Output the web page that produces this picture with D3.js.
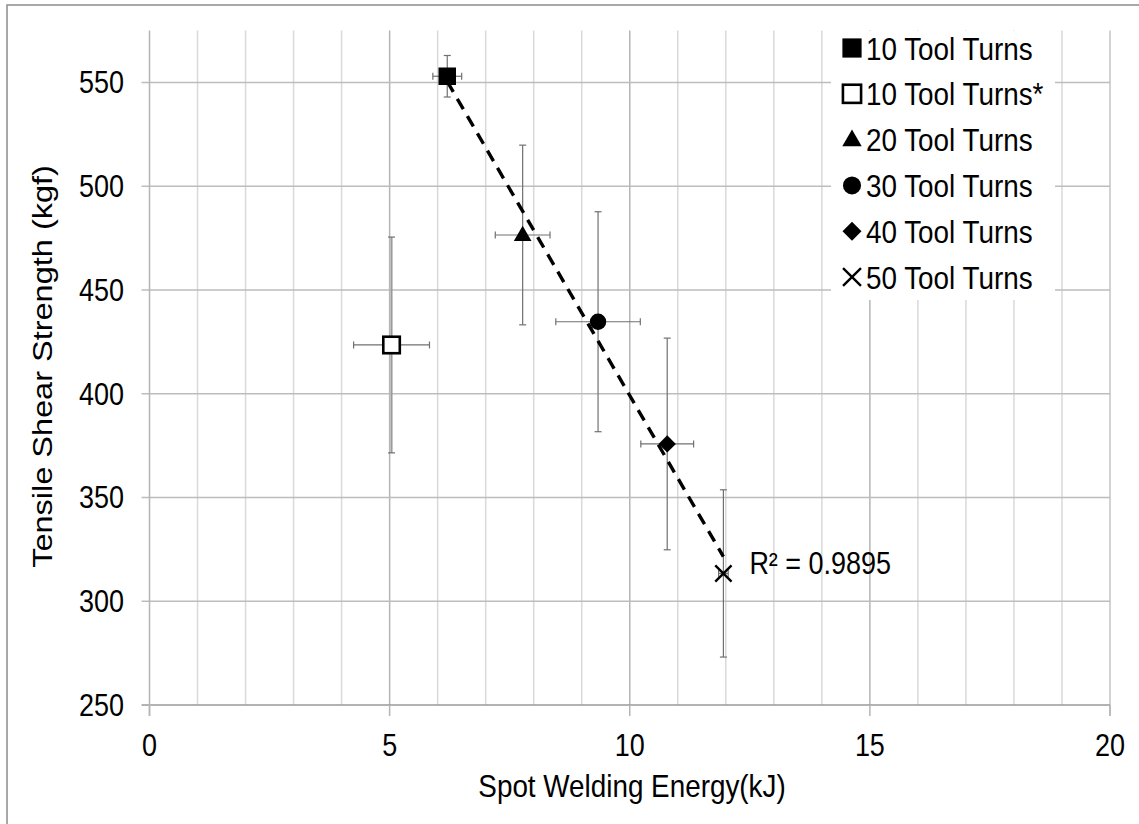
<!DOCTYPE html>
<html>
<head>
<meta charset="utf-8">
<script src="https://cdn.jsdelivr.net/npm/d3@7"></script>
<style>
  html, body { margin: 0; padding: 0; background: #fff; }
  svg { display: block; }
  text { font-family: "Liberation Sans", Arial, sans-serif; fill: #000; }
</style>
</head>
<body>
<svg id="chart" width="1139" height="824"></svg>
<script>
// Series and measured values
const seriesNames = ["10 Tool Turns", "10 Tool Turns*", "20 Tool Turns", "30 Tool Turns", "40 Tool Turns", "50 Tool Turns"];
const symbolKinds = ["square", "openSquare", "triangle", "circle", "diamond", "cross"];
const energy      = [6.2, 5.04, 7.77, 9.34, 10.78, 11.95];     // kJ
const strength    = [553, 423.5, 476.5, 434.7, 375.8, 313.4]; // kgf
const energyErr   = [0.3, 0.79, 0.57, 0.88, 0.55, 0.1];
const strengthErr = [10, 52, 43.3, 53, 51, 40.3];
const inTrend     = [true, false, true, true, true, true];
const xTicks = [0, 5, 10, 15, 20];
const yTicks = [250, 300, 350, 400, 450, 500, 550];
const xMinor = d3.range(1, 20);
const r2Label = "R\u00b2 = 0.9895";
const xTitle = "Spot Welding Energy(kJ)";
const yTitle = "Tensile Shear Strength (kgf)";

const SX = 0.87; // condensed glyph width

const svg = d3.select("#chart");
const x = d3.scaleLinear().domain([0, 20]).range([149.5, 1110]);
const y = d3.scaleLinear().domain([250, 575]).range([705, 30.6]);

function label(parent, px, py, str, size, anchor, rotate) {
  const t = rotate
    ? `translate(${px},${py}) rotate(${rotate}) scale(1,${SX})`
    : `translate(${px},${py}) scale(${SX},1)`;
  return parent.append("text")
    .attr("transform", t)
    .attr("text-anchor", anchor)
    .style("font-size", size + "px")
    .text(str);
}

// outer frame
svg.append("rect").attr("x", 7).attr("y", 5).attr("width", 1150).attr("height", 840)
  .attr("fill", "none").attr("stroke", "#8c8c8c").attr("stroke-width", 1.5);

const grid = svg.append("g");
// vertical gridlines (every unit, darker on major ticks)
grid.selectAll("line.vminor").data(xMinor).join("line")
  .attr("x1", d => x(d)).attr("x2", d => x(d))
  .attr("y1", y(575)).attr("y2", y(250))
  .attr("stroke", d => d % 5 === 0 ? "#b5b5b5" : "#d9d9d9")
  .attr("stroke-width", 1.5);
grid.append("line").attr("x1", x(20)).attr("x2", x(20)).attr("y1", y(575)).attr("y2", y(250) + 11)
  .attr("stroke", "#c4c4c4").attr("stroke-width", 1.5);
// horizontal gridlines with left tick marks
grid.selectAll("line.h").data(yTicks).join("line")
  .attr("x1", x(0) - 8).attr("x2", x(20))
  .attr("y1", d => y(d)).attr("y2", d => y(d))
  .attr("stroke", d => d === 250 ? "#9a9a9a" : "#bdbdbd")
  .attr("stroke-width", 1.3);
// y axis line and x major ticks
grid.append("line").attr("x1", x(0)).attr("x2", x(0)).attr("y1", y(575)).attr("y2", y(250) + 11)
  .attr("stroke", "#b5b5b5").attr("stroke-width", 1.5);
grid.selectAll("line.xt").data(xTicks).join("line")
  .attr("x1", d => x(d)).attr("x2", d => x(d))
  .attr("y1", y(250)).attr("y2", y(250) + 11)
  .attr("stroke", "#b5b5b5").attr("stroke-width", 1.5);

// tick labels
const tl = svg.append("g");
yTicks.forEach(v => label(tl, 124, y(v) + 11, String(v), 31, "end"));
xTicks.forEach(v => label(tl, x(v), 756, String(v), 31, "middle"));

// axis titles
label(svg, 632, 797, xTitle, 32, "middle");
label(svg, 52, 366.5, yTitle, 32.5, "middle", -90);

// legend
const legend = svg.append("g");
legend.append("rect").attr("x", 831).attr("y", 31).attr("width", 224).attr("height", 269).attr("fill", "#fff");

function drawSymbol(g, kind, cx, cy, k) {
  k = k || 1;
  if (kind === "square" || kind === "openSquare") {
    const s = 16.5 * k;
    g.append("rect").attr("x", cx - s / 2).attr("y", cy - s / 2).attr("width", s).attr("height", s)
      .attr("fill", kind === "square" ? "#000" : "#fff")
      .attr("stroke", "#000").attr("stroke-width", kind === "square" ? 1 : 2.6);
  } else if (kind === "triangle") {
    g.append("path").attr("transform", `translate(${cx},${cy + 1})`)
      .attr("d", d3.symbol(d3.symbolTriangle, 135 * k * k)()).attr("fill", "#000");
  } else if (kind === "circle") {
    g.append("circle").attr("cx", cx).attr("cy", cy).attr("r", 8.2 * k).attr("fill", "#000");
  } else if (kind === "diamond") {
    g.append("path").attr("transform", `translate(${cx},${cy}) rotate(45)`)
      .attr("d", d3.symbol(d3.symbolSquare, 150 * k * k)()).attr("fill", "#000");
  } else if (kind === "cross") {
    g.append("path").attr("transform", `translate(${cx},${cy})`)
      .attr("d", d3.symbol(d3.symbolTimes, 175 * k * k)())
      .attr("fill", "none").attr("stroke", "#000").attr("stroke-width", 2.4);
  }
}

seriesNames.forEach((name, i) => {
  const cy = 48 + i * 45.8;
  drawSymbol(legend, symbolKinds[i], 852, cy, 1.1);
  label(legend, 866, cy + 11.5, name, 32, "start");
});

// error bars
const eb = svg.append("g");
seriesNames.forEach((name, i) => {
  const cx = x(energy[i]), cy = y(strength[i]);
  const col = i === 1 ? "#9a9a9a" : "#707070";
  const w = i === 1 ? 2 : 1.2;
  const y0 = y(strength[i] - strengthErr[i]), y1 = y(strength[i] + strengthErr[i]);
  const x0 = x(energy[i] - energyErr[i]), x1 = x(energy[i] + energyErr[i]);
  eb.append("line").attr("x1", cx).attr("x2", cx).attr("y1", y0).attr("y2", y1).attr("stroke", col).attr("stroke-width", w);
  [y0, y1].forEach(v => eb.append("line").attr("x1", cx - 3.5).attr("x2", cx + 3.5).attr("y1", v).attr("y2", v)
    .attr("stroke", "#707070").attr("stroke-width", 1.2));
  eb.append("line").attr("x1", x0).attr("x2", x1).attr("y1", cy).attr("y2", cy).attr("stroke", "#707070").attr("stroke-width", 1.2);
  [x0, x1].forEach(v => eb.append("line").attr("x1", v).attr("x2", v).attr("y1", cy - 3.5).attr("y2", cy + 3.5)
    .attr("stroke", "#707070").attr("stroke-width", 1.2));
});

// markers
const mk = svg.append("g");
seriesNames.forEach((name, i) => drawSymbol(mk, symbolKinds[i], x(energy[i]), y(strength[i]), 1));

// least-squares trend line over the fitted series
const fitIdx = d3.range(energy.length).filter(i => inTrend[i]);
const mx = d3.mean(fitIdx, i => energy[i]);
const my = d3.mean(fitIdx, i => strength[i]);
const slope = d3.sum(fitIdx, i => (energy[i] - mx) * (strength[i] - my)) / d3.sum(fitIdx, i => (energy[i] - mx) ** 2);
const icpt = my - slope * mx;
const [fx0, fx1] = d3.extent(fitIdx, i => energy[i]);
svg.append("path")
  .attr("d", d3.line().x(d => x(d)).y(d => y(icpt + slope * d))([fx0, fx1]))
  .attr("fill", "none").attr("stroke", "#000").attr("stroke-width", 3.4)
  .attr("stroke-dasharray", "12,8");

// R² annotation beside the last point
const last = energy.length - 1;
label(svg, x(energy[last]) + 26, y(strength[last]) + 1, r2Label, 31, "start");
</script>
</body>
</html>
